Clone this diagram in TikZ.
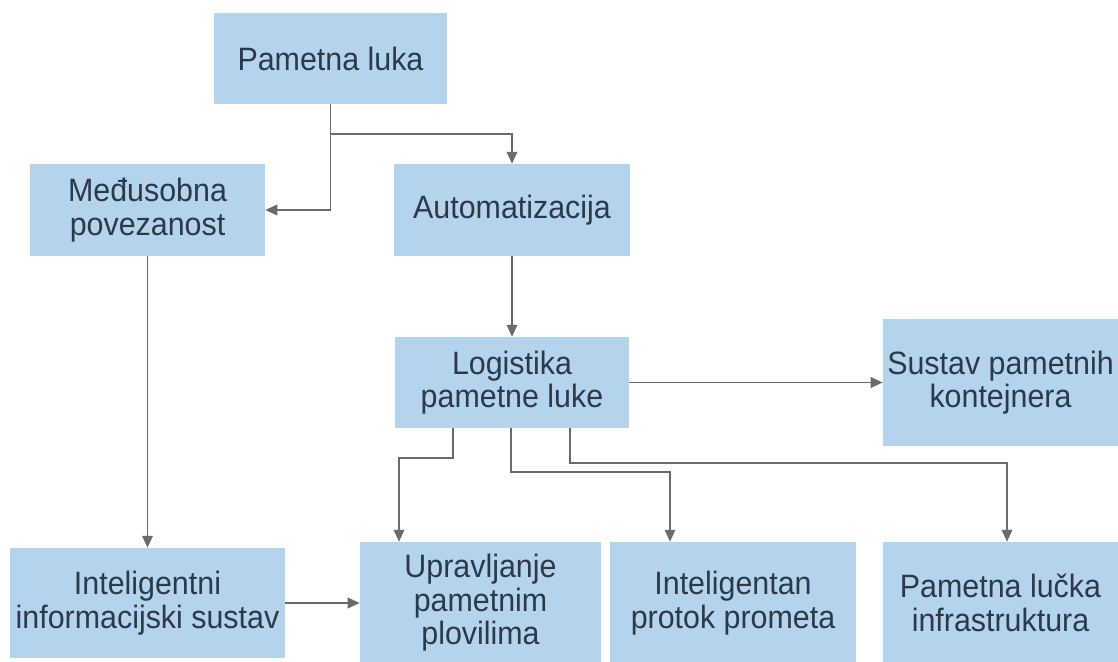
\documentclass[tikz,border=0pt]{standalone}
\usepackage{fontspec}
\setmainfont{Liberation Sans}[FakeStretch=0.94]
\usetikzlibrary{arrows.meta}

\definecolor{boxblue}{HTML}{B3D4EC}
\definecolor{ink}{HTML}{2D3949}
\definecolor{linegray}{HTML}{6A6A6A}

\tikzset{
  box/.style={fill=boxblue, text=ink, inner sep=0pt, align=center,
    font=\fontsize{23}{23.8}\selectfont},
  link/.style={draw=linegray, line width=1.25pt, -{Triangle[length=8.5pt,width=7.5pt]}},
}

\begin{document}
\begin{tikzpicture}[x=0.025cm, y=-0.025cm]
\useasboundingbox (0,0) rectangle (1118,662);

\node[box, minimum width=5.825cm, minimum height=2.275cm] (luka) at (330.5,58.5) {Pametna luka};
\node[box, minimum width=5.875cm, minimum height=2.3cm] (veza) at (147.5,210) {Međusobna\\povezanost};
\node[box, minimum width=5.875cm, minimum height=2.3cm] (auto) at (512,210) {Automatizacija};
\node[box, minimum width=5.85cm, minimum height=2.275cm] (logist) at (512,382.5) {Logistika\\pametne luke};
\node[box, minimum width=5.875cm, minimum height=3.175cm] (kont) at (1000.5,382.5) {Sustav pametnih\\kontejnera};
\node[box, minimum width=6.875cm, minimum height=2.75cm] (iis) at (147.5,603) {Inteligentni\\informacijski sustav};
\node[box, minimum width=6.025cm, minimum height=3.05cm] (plov) at (480.5,603) {Upravljanje\\pametnim\\plovilima};
\node[box, minimum width=6.15cm, minimum height=3.05cm] (promet) at (733,603) {Inteligentan\\protok prometa};
\node[box, minimum width=5.875cm, minimum height=3.05cm] (infra) at (1000.5,603) {Pametna lučka\\infrastruktura};

\coordinate (grana) at (330.5,134);

\path[link] (luka.south) -- (luka.south |- veza.east) -- (veza.east);
\path[link] (grana) -| (auto.north);
\path[link] (veza.south) -- (iis.north);
\path[link] (auto.south) -- (logist.north);
\path[link] (logist.east) -- (kont.west);
\path[link] (iis.east) -- (plov.west);

\path[link] ([xshift=-59*0.025cm]logist.south) -- ++(0,30) -| ([xshift=-81.5*0.025cm]plov.north);
\path[link] ([xshift=-1*0.025cm]logist.south) -- ++(0,44) -| ([xshift=-63*0.025cm]promet.north);
\path[link] ([xshift=58*0.025cm]logist.south) -- ++(0,35) -| ([xshift=6.5*0.025cm]infra.north);
\end{tikzpicture}
\end{document}
